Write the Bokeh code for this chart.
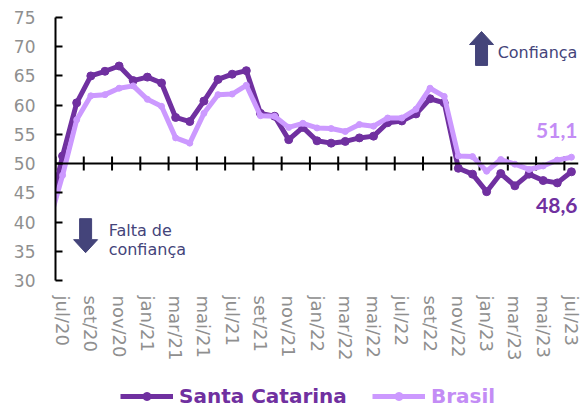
from bokeh.plotting import figure
from bokeh.layouts import column
from bokeh.models import Range1d, FixedTicker, Span, Legend, LegendItem
from bokeh.core.properties import value
from bokeh.embed import file_html
from bokeh.resources import INLINE

# ---------------- data ----------------
months = ["jun/20", "jul/20", "ago/20", "set/20", "out/20", "nov/20", "dez/20",
          "jan/21", "fev/21", "mar/21", "abr/21", "mai/21", "jun/21",
          "jul/21", "ago/21", "set/21", "out/21", "nov/21", "dez/21",
          "jan/22", "fev/22", "mar/22", "abr/22", "mai/22", "jun/22",
          "jul/22", "ago/22", "set/22", "out/22", "nov/22", "dez/22",
          "jan/23", "fev/23", "mar/23", "abr/23", "mai/23", "jun/23", "jul/23"]

santa_catarina = [41.0, 51.3, 60.4, 65.0, 65.8, 66.7, 64.2,
                  64.8, 63.8, 57.9, 57.2, 60.7, 64.4,
                  65.3, 65.9, 58.6, 58.1, 54.1, 56.2,
                  53.9, 53.5, 53.8, 54.4, 54.7, 57.0,
                  57.3, 58.5, 61.1, 60.4, 49.2, 48.2,
                  45.2, 48.3, 46.2, 48.2, 47.1, 46.7, 48.6]

brasil = [39.5, 48.0, 57.5, 61.6, 61.8, 62.9, 63.3,
          61.0, 59.8, 54.4, 53.5, 58.6, 61.8,
          61.9, 63.4, 58.2, 58.1, 56.2, 56.9,
          56.1, 56.0, 55.5, 56.7, 56.4, 57.8,
          57.8, 59.3, 62.9, 61.5, 51.3, 51.2,
          48.7, 50.7, 49.9, 49.0, 49.6, 50.6, 51.1]

y_ticks = [30, 35, 40, 45, 50, 55, 60, 65, 70, 75]
neutral_level = 50
last_sc_label = "48,6"
last_br_label = "51,1"

# x index: jul/20 = 0
x = [i - 1 for i in range(len(months))]
label_idx = list(range(0, len(months) - 1, 2))
overrides = {i: months[i + 1] for i in label_idx}

DARK = "#7030A0"
LIGHT = "#CC99FF"
LIGHT_TXT = "#C38CF5"
NAVY = "#44447A"
GRAY = "#8F8F8F"
FONT = "DejaVu Sans"

FRAME_W, FRAME_H = 523, 263
X0, X1 = -0.5, len(months) - 1.5
Y0, Y1 = 30, 75
PX = FRAME_W / (X1 - X0)   # px per x unit
PY = FRAME_H / (Y1 - Y0)   # px per y unit

p = figure(width=586, height=380, output_backend="svg", toolbar_location=None,
           x_range=Range1d(X0, X1), y_range=Range1d(Y0, Y1),
           min_border_left=55, min_border_right=8, min_border_top=17,
           min_border_bottom=100)
p.outline_line_color = None
p.grid.visible = False
p.background_fill_color = "white"
p.border_fill_color = "white"

# y axis
ya = p.yaxis[0]
ya.ticker = FixedTicker(ticks=y_ticks)
ya.axis_line_width = 2
ya.axis_line_color = "black"
ya.major_tick_in = 7
ya.major_tick_out = 0
ya.major_tick_line_width = 2
ya.minor_tick_line_color = None
ya.major_label_standoff = 20
ya.major_label_text_font = FONT
ya.major_label_text_font_size = "17px"
ya.major_label_text_color = GRAY

# x axis (labels only)
xa = p.xaxis[0]
xa.ticker = FixedTicker(ticks=label_idx)
xa.major_label_overrides = overrides
xa.major_label_orientation = "vertical"
xa.axis_line_color = None
xa.major_tick_line_color = None
xa.minor_tick_line_color = None
xa.major_tick_out = 0
xa.major_label_standoff = 15
xa.major_label_text_font = FONT
xa.major_label_text_font_size = "18px"
xa.major_label_text_color = GRAY

# neutral line at 50 with crossing ticks
p.add_layout(Span(location=neutral_level, dimension="width", line_color="black", line_width=2))
tick_x = [X0 + 2 * k for k in range(len(label_idx))]
half = 7 / PY
p.segment(x0=tick_x, y0=[neutral_level - half] * len(tick_x),
          x1=tick_x, y1=[neutral_level + half] * len(tick_x),
          line_color="black", line_width=2)

# series
r1l = p.line(x, santa_catarina, line_color=DARK, line_width=5)
r1p = p.scatter(x, santa_catarina, size=8, color=DARK)
r2l = p.line(x, brasil, line_color=LIGHT, line_width=5)
r2p = p.scatter(x, brasil, size=6, color=LIGHT)

# block arrows (decorations)
def block_arrow(cx, y_tail, y_tip, color):
    hw = 12 / PX
    sw = 6 / PX
    hh = 13 / PY * (1 if y_tip > y_tail else -1)
    yb = y_tip - hh
    xs = [cx - sw, cx - sw, cx - hw, cx, cx + hw, cx + sw, cx + sw]
    ys = [y_tail, yb, yb, y_tip, yb, yb, y_tail]
    p.patch(xs, ys, fill_color=color, line_color=color, line_width=1)

block_arrow(29.64, 66.8, 72.6, NAVY)
block_arrow(1.63, 40.58, 34.76, NAVY)

p.text(x=[30.78, 3.26, 3.26], y=[69.0, 38.53, 35.27],
       text=["Confiança", "Falta de", "confiança"],
       text_font=value(FONT), text_font_size="16px", text_color=NAVY,
       text_align="left", text_baseline="middle")

# end labels
p.text(x=[36.43], y=[55.65], text=[last_br_label], text_font=value("Lato"),
       text_font_size="21px", text_font_style="bold", text_color=LIGHT_TXT,
       text_align="right", text_baseline="middle")
p.text(x=[36.43], y=[42.8], text=[last_sc_label], text_font=value("Lato"),
       text_font_size="21px", text_font_style="bold", text_color=DARK,
       text_align="right", text_baseline="middle")

# ---------------- legend strip ----------------
lp = figure(width=586, height=31, output_backend="svg", toolbar_location=None,
            x_range=Range1d(0, 586), y_range=Range1d(0, 31),
            x_axis_location=None, y_axis_location=None,
            min_border_left=0, min_border_right=0, min_border_top=0,
            min_border_bottom=0)
lp.outline_line_color = None
lp.grid.visible = False
lp.border_fill_color = "white"

# proxy renderers (off-canvas) used only for the legend swatches
off = [-100, -90]
l1l = lp.line(off, off, line_color=DARK, line_width=5)
l1p = lp.scatter(off, off, size=9, color=DARK)
l2l = lp.line(off, off, line_color=LIGHT, line_width=5)
l2p = lp.scatter(off, off, size=6, color=LIGHT)

def make_legend(label, rends, color, xloc):
    lg = Legend(items=[LegendItem(label=label, renderers=rends, index=0)],
                location=(xloc, 3), orientation="horizontal",
                border_line_color=None, background_fill_alpha=0,
                padding=0, margin=0, glyph_width=53, glyph_height=20,
                label_height=20, label_standoff=6,
                label_text_font=FONT, label_text_font_size="20px",
                label_text_font_style="bold", label_text_color=color)
    lp.add_layout(lg)

# frames of the column are aligned, so x is relative to the plot frame (x=55)
make_legend("Santa Catarina", [l1l, l1p], DARK, 65)
make_legend("Brasil", [l2l, l2p], LIGHT_TXT, 317)

layout = column(p, lp, spacing=0)
open("out.html", "w").write(file_html(layout, INLINE))
